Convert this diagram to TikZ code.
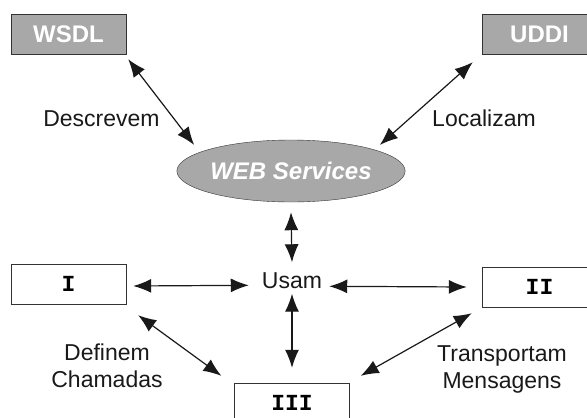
\documentclass[tikz,border=0pt]{standalone}
\usepackage{fontspec}
\setmainfont{Liberation Sans}
\setmonofont{Liberation Mono}
\usetikzlibrary{shapes.geometric, arrows.meta, calc}
\definecolor{boxgray}{rgb}{0.66, 0.66, 0.66}
\definecolor{edgegray}{rgb}{0.2, 0.2, 0.2}

\begin{document}
\begin{tikzpicture}[x=1pt, y=-1pt,
    graybox/.style={draw=edgegray, fill=boxgray, minimum width=115pt, minimum height=40pt,
        inner sep=0pt, font=\fontsize{24}{28}\selectfont\bfseries, text=white},
    whitebox/.style={draw=edgegray, fill=white, minimum width=115pt, minimum height=40pt,
        inner sep=0pt, font=\fontsize{23}{26}\selectfont\ttfamily\bfseries},
    label/.style={inner sep=0pt, align=center, font=\fontsize{23}{27}\selectfont, text=black!90},
    link/.style={{Latex[length=18pt,width=14pt]}-{Latex[length=18pt,width=14pt]}, line width=1.2pt, black!90}]
    \useasboundingbox (0,0) rectangle (587,418);
    \clip (0,0) rectangle (587,418);
    % boxes
    \node[graybox] (wsdl) at (68.5,34) {WSDL};
    \node[graybox] (uddi) at (539.5,34) {UDDI};
    \node[ellipse, draw=edgegray, fill=boxgray, minimum width=192pt, minimum height=62pt, inner sep=0pt,
        font=\fontsize{24}{28}\selectfont\bfseries\itshape, text=white] (ws) at (291,171) {WEB Services};
    \node[label] (usam) at (292,280.5) {Usam};
    \node[whitebox] (i) at (68.5,284) {I};
    \node[whitebox] (ii) at (539.5,287) {II};
    \node[whitebox] (iii) at (292,403) {III};
    % texts
    \node[label] (descrevem) at (101.5,118.5) {Descrevem};
    \node[label] (localizam) at (484,118.5) {Localizam};
    \node[label] (definem) at (107,366) {Definem\\Chamadas};
    \node[label] (transportam) at (502,369) {Transportam\\Mensagens};
    % arrows
    \draw[link] ([shift={(2,5)}]wsdl.south east) -- ([shift={(-16,-4)}]ws.north west);
    \draw[link] ([shift={(-9,8)}]uddi.south west) -- ([shift={(8,-4)}]ws.north east);
    \draw[link] ([shift={(0,10)}]ws.south) -- ([shift={(0,-10)}]usam.north);
    \draw[link] ([shift={(7,2)}]i.east) -- ([shift={(-13,-3)}]usam.base west);
    \draw[link] ([shift={(7,-2)}]usam.base east) -- ([shift={(-15,0)}]ii.west);
    \draw[link] ([shift={(0,5)}]usam.south) -- ([shift={(0,-15)}]iii.north);
    \draw[link] ([shift={(12,11)}]i.south east) -- ([shift={(-13,-7)}]iii.north west);
    \draw[link] ([shift={(-10,6)}]ii.south west) -- ([shift={(11,-7)}]iii.north east);
\end{tikzpicture}
\end{document}
